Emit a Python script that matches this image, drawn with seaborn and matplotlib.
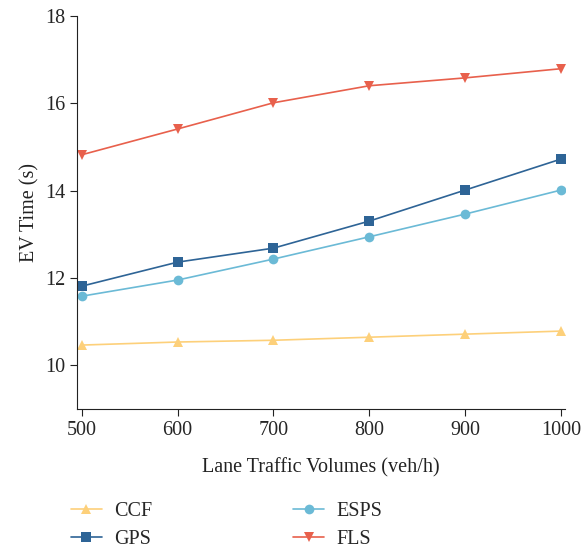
import matplotlib
matplotlib.use("Agg")
from matplotlib import pyplot as plt
import pandas as pd
import seaborn as sns

volumes = [500, 600, 700, 800, 900, 1000]
ccf = [10.46, 10.53, 10.57, 10.64, 10.71, 10.78]
gps = [11.81, 12.36, 12.68, 13.30, 14.01, 14.72]
esps = [11.58, 11.95, 12.43, 12.94, 13.46, 14.01]
fls = [14.82, 15.41, 16.01, 16.40, 16.58, 16.79]
methods = ["CCF", "GPS", "ESPS", "FLS"]

df = pd.DataFrame({
    "volume": volumes * 4,
    "time": ccf + gps + esps + fls,
    "method": [m for m in methods for _ in volumes],
})

sns.set_style("ticks")
plt.rcParams["font.family"] = ["Liberation Serif", "DejaVu Serif"]

colors = {"CCF": "#FDD07A", "GPS": "#2E6496", "ESPS": "#6BBAD6", "FLS": "#E8604C"}
markers = {"CCF": "^", "GPS": "s", "ESPS": "o", "FLS": "v"}

fig = plt.figure(figsize=(5.84, 5.48), dpi=100)
ax = fig.add_axes([0.132, 0.254, 0.835, 0.717])
sns.lineplot(data=df, x="volume", y="time", hue="method", style="method",
             hue_order=methods, style_order=methods, palette=colors,
             markers=markers, dashes=False, markersize=7, markeredgewidth=0,
             linewidth=1.2, ax=ax)

ax.set_xlim(495, 1004)
ax.set_ylim(9, 18)
ax.set_xticks(volumes)
ax.set_yticks([10, 12, 14, 16, 18])
ax.tick_params(labelsize=14.5, color="#222222", length=5)
ax.set_xlabel("Lane Traffic Volumes (veh/h)", fontsize=14.5, color="#222222", labelpad=13)
ax.set_ylabel("EV Time (s)", fontsize=14.5, color="#222222")
sns.despine(ax=ax)
for s in ["left", "bottom"]:
    ax.spines[s].set_color("#222222")

ax.legend(loc="upper left", bbox_to_anchor=(-0.05, -0.19), ncol=2, frameon=False,
          fontsize=14.5, handlelength=1.55, handletextpad=0.6,
          columnspacing=7.0, labelspacing=0.45)

plt.savefig("out.png", dpi=100)
